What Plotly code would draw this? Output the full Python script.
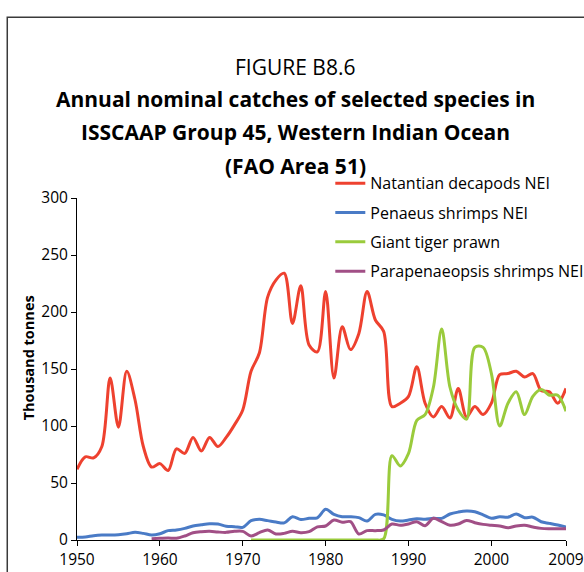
import plotly.graph_objects as go

years = list(range(1950, 2010))

natantian = [62, 73, 72, 82, 142, 99, 148, 123, 82, 64, 67, 61, 80, 76, 90, 78, 90, 82, 90, 101,
             114, 148, 164, 213, 228, 234, 190, 223, 171, 165, 218, 142, 187, 167, 181, 218, 193, 183, 117, 120,
             126, 152, 120, 108, 117, 107, 133, 108, 117, 110, 120, 145, 146, 148, 143, 146, 131, 130, 120, 133]

penaeus = [2.4, 2.6, 3.8, 4.4, 4.4, 4.7, 5.5, 6.7, 5.8, 4.4, 5.5, 8.2, 8.8, 10.2, 12.3, 13.4, 14.3, 14, 12, 11.7,
           11.1, 16.9, 18.1, 17, 15.8, 15, 20.4, 18, 19, 19.5, 26.9, 22.5, 20.4, 20.4, 19.6, 16.6, 22.5, 22, 18.1, 16.6,
           17.5, 18.6, 18.1, 19, 19, 22.8, 24.5, 25.4, 24.8, 22, 19, 20.4, 20, 22.8, 19.6, 20, 16, 14.6, 13.1, 11.4]

giant_tiger = [None] * 21 + [0] * 16 + [1, 74, 65, 76, 105, 110, 134, 185, 134, 114, 106, 169, 169, 146, 100,
                                      120, 130, 110, 126, 132, 127, 127, 113]

parapenaeopsis = [None] * 9 + [1.2, 1.5, 1.8, 1.5, 3.5, 6.4, 7.3, 7.6, 7, 6.7, 7.6,
                               7.6, 3.5, 6.4, 8.8, 5.3, 5.8, 7.6, 6.4, 7.3, 11.5, 12.3, 17.5, 15.5, 16.1, 5.3, 8.2, 8.2, 8.8, 14, 12.9,
                               14, 16.1, 12.6, 19, 16.1, 12.9, 14, 17.2, 15.2, 13.7, 12.9, 12.3, 10.8, 12.3, 12.9, 11.4, 10.2, 9.9, 9.9, 9.9]

series_names = ["Natantian decapods NEI", "Penaeus shrimps NEI", "Giant tiger prawn", "Parapenaeopsis shrimps NEI"]
series_values = [natantian, penaeus, giant_tiger, parapenaeopsis]
series_colors = ["#EE412F", "#4A7BC6", "#9ACB3C", "#A14F86"]

x_tickvals = [1950, 1960, 1970, 1980, 1990, 2000, 2009]
y_tickvals = [0, 50, 100, 150, 200, 250, 300]

title_lines = ["Annual nominal catches of selected species in",
               "ISSCAAP Group 45, Western Indian Ocean",
               "(FAO Area 51)"]

FONT = "Open Sans"

fig = go.Figure()
for i, (name, vals, col) in enumerate(zip(series_names, series_values, series_colors)):
    fig.add_trace(go.Scatter(
        x=years, y=vals, name=name, mode="lines",
        line=dict(color=col, width=3, shape="spline", smoothing=0.9),
        legendgroup=f"g{i}", connectgaps=False,
    ))

fig.update_layout(
    width=584, height=572,
    margin=dict(l=76.5, r=18, t=197.7, b=32, pad=0, autoexpand=False),
    paper_bgcolor="white", plot_bgcolor="white",
    font=dict(family=FONT, size=15, color="black"),
    showlegend=True,
    legend=dict(x=0.518, y=1.0926, xanchor="left", yanchor="top",
                font=dict(size=16, family=FONT), tracegroupgap=5.5,
                bgcolor="rgba(0,0,0,0)", itemwidth=30),
    xaxis=dict(range=[1950, 2009], tickvals=x_tickvals, ticks="outside", ticklen=5,
               showgrid=False, zeroline=False, showline=True, linecolor="black", linewidth=1,
               tickcolor="black", tickfont=dict(size=15.5)),
    yaxis=dict(range=[0, 300], tickvals=y_tickvals, ticks="outside", ticklen=5,
               showgrid=False, zeroline=False, showline=True, linecolor="black", linewidth=1,
               tickcolor="black", tickfont=dict(size=15.5)),
)

fig.add_annotation(text="FIGURE B8.6", xref="paper", yref="paper", x=0.446, y=1.382,
                   xanchor="center", yanchor="middle", showarrow=False,
                   font=dict(size=21, family=FONT))
for txt, yy in zip(title_lines, [1.2908, 1.1924, 1.0935]):
    fig.add_annotation(text=f"<b>{txt}</b>", xref="paper", yref="paper", x=0.446, y=yy,
                       xanchor="center", yanchor="middle", showarrow=False,
                       font=dict(size=21, family=FONT))

fig.add_annotation(text="<b>Thousand tonnes</b>", xref="paper", yref="paper", x=-0.099, y=0.533,
                   xanchor="center", yanchor="middle", showarrow=False, textangle=-90,
                   font=dict(size=14.5, family=FONT))

fig.add_shape(type="rect", xref="paper", yref="paper", x0=-0.1426, y0=-0.2, x1=1.3, y1=1.5285,
              line=dict(color="#3a3a3a", width=1.5), fillcolor="rgba(0,0,0,0)", layer="below")

# remove the default 8px page margin so the 584x572 figure fills the window exactly
fig.write_html("out.html",
               config={"displayModeBar": False},
               post_script="document.body.style.margin='0';document.body.style.overflow='hidden';")
